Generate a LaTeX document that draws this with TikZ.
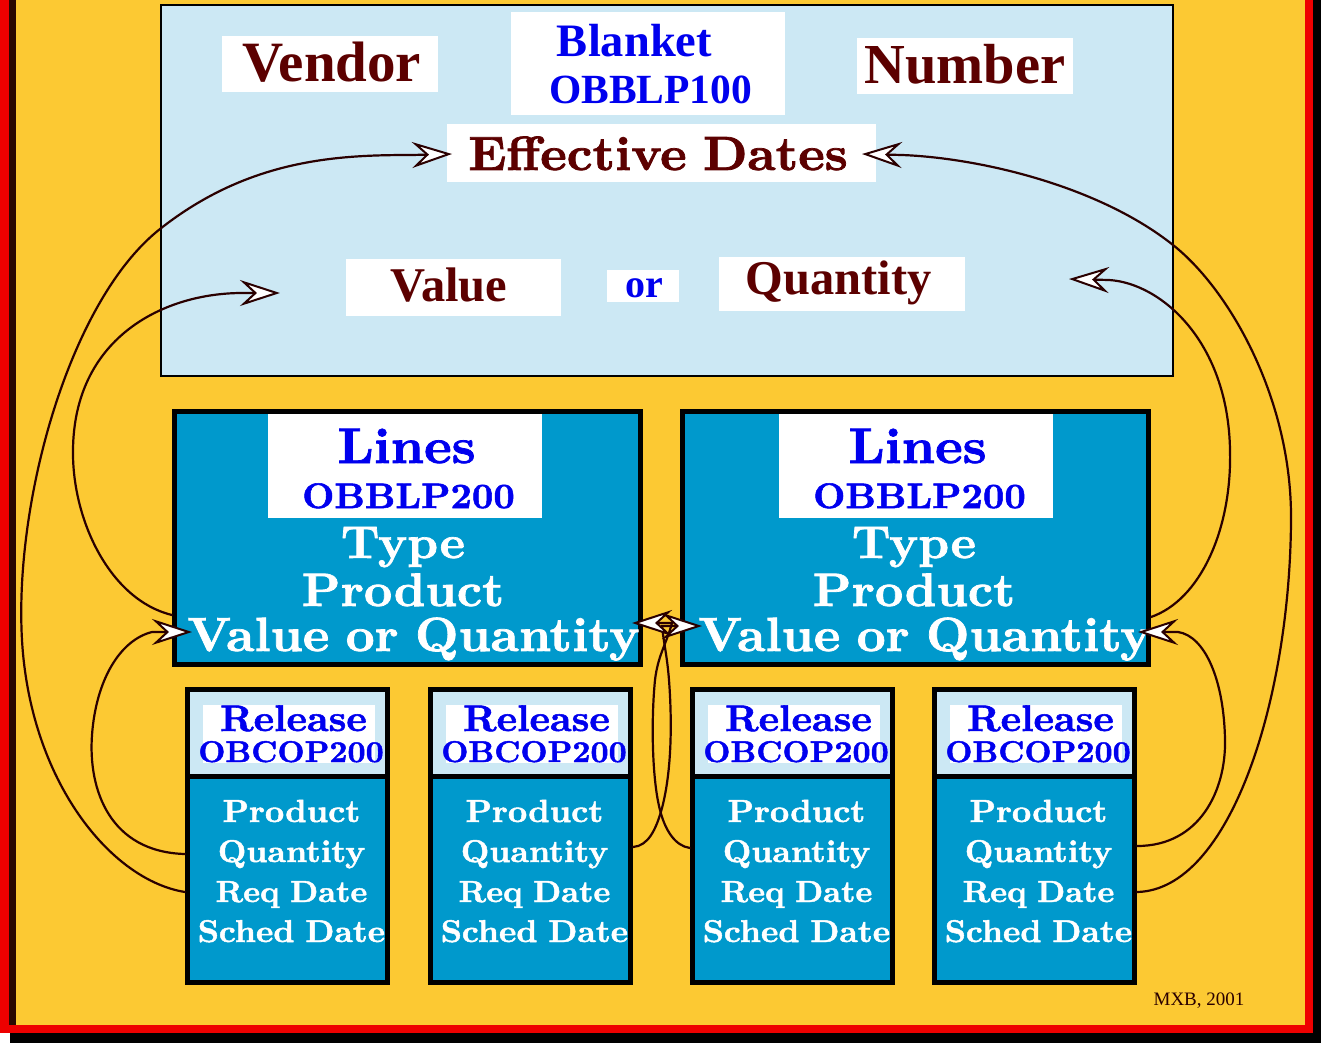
\documentclass[tikz,border=0pt]{standalone}
\usepackage{fontspec}
\newfontfamily\tmsfont{Liberation Serif}
\newfontfamily\schbold{lmroman10-bold.otf}[WordSpace=0.85,FakeStretch=1.05,FakeBold=1.5]
\usetikzlibrary{arrows.meta,calc}
\definecolor{bgyel}{HTML}{FCC933}
\definecolor{frred}{HTML}{EE0000}
\definecolor{lblue}{HTML}{CCE8F4}
\definecolor{dblue}{HTML}{0099CC}
\definecolor{tblue}{HTML}{0000EE}
\definecolor{dred}{HTML}{5C0000}
\definecolor{conncol}{HTML}{2A0000}
\definecolor{edgecol}{HTML}{2A0800}
\newcommand\fsz[1]{\fontsize{#1}{#1}\selectfont}
\begin{document}
\begin{tikzpicture}[x=1pt,y=-1pt,
  txt/.style={inner sep=0pt, anchor=base},
  wbox/.style={fill=white, inner sep=0pt},
  timesred/.style={txt, text=dred, font=\tmsfont\bfseries\fsz{#1}},
  timesblue/.style={txt, text=tblue, font=\tmsfont\bfseries\fsz{#1}},
  schblue/.style={txt, text=tblue, font=\schbold\fsz{#1}},
  schwhite/.style={txt, text=white, font=\schbold\fsz{#1}},
  linesbox/.style={draw=black, line width=5pt, fill=dblue, inner sep=0pt, minimum width=466pt, minimum height=253pt},
  relbox/.style={draw=black, line width=5pt, fill=dblue, inner sep=0pt, minimum width=200pt, minimum height=293pt},
  headbox/.style={draw=black, line width=5pt, fill=lblue, inner sep=0pt, minimum width=200pt, minimum height=86.5pt},
  conn/.style={draw=conncol, line width=2.2pt, line cap=round, -{Stealth[length=40pt,width=26pt,inset=14pt,fill=white,line width=2pt]}}
]
\useasboundingbox (0,0) rectangle (1321,1043);
% frame
\fill[black] (10,0) rectangle (1321,1043);
\fill[frred] (0,0) rectangle (1313,1033);
\fill[edgecol] (9,0) rectangle (1305,1025);
\fill[bgyel] (16,0) rectangle (1305,1025);

% top box
\node[draw=black, line width=2pt, fill=lblue, inner sep=0pt, minimum width=1012pt, minimum height=371pt] (blanketbox) at (666.8,190.5) {};
\node[wbox, minimum width=216pt, minimum height=56pt] (vendorbox) at (330,64) {};
\node[wbox, minimum width=274pt, minimum height=103pt] (blankbox) at (648,63.5) {};
\node[wbox, minimum width=429pt, minimum height=58pt] (effbox) at (661.5,153) {};
\node[wbox, minimum width=216pt, minimum height=56pt] (numbox) at (965,66) {};
\node[wbox, minimum width=215pt, minimum height=57pt] (valbox) at (453.5,287.5) {};
\node[wbox, minimum width=72pt, minimum height=32pt] (orbox) at (643,286) {};
\node[wbox, minimum width=246pt, minimum height=54pt] (qtybox) at (842,284) {};

\node[timesred=57] (vendor) at (332,82) {Vendor};
\node[timesred=56.5] (number) at (965,84) {Number};
\node[timesblue=46.5] (blanket) at (634.5,57) {Blanket};
\node[timesblue=41.5] (obblp100) at (650.5,104) {OBBLP100};
\node[txt, text=dred, font=\schbold\fsz{48}] (effdates) at (658,170) {Effective Dates};
\node[timesred=48.5] (value) at (449,301) {Value};
\node[timesblue=40] (ortxt) at (644,297) {or};
\node[timesred=48.5] (quantity) at (838.5,294) {Quantity};

% lines boxes
\node[linesbox] (linesL) at (407.5,538) {};
\node[linesbox] (linesR) at (915.5,538) {};
\foreach \s/\dx in {L/0,R/511}{
  \node[wbox, minimum width=274pt, minimum height=104pt] (lab\s) at (405+\dx,466) {};
  \node[schblue=50] (lines\s-a) at (406.5+\dx,463) {Lines};
  \node[schblue=35.5] (lines\s-b) at (408.5+\dx,508) {OBBLP200};
  \node[schwhite=46] (lines\s-c) at (403+\dx,558) {Type};
  \node[schwhite=47] (lines\s-d) at (403+\dx,606) {Product};
  \node[schwhite=48] (lines\s-e) at (413.5+\dx,651) {Value or Quantity};
}

% release boxes
\foreach \i/\cx in {1/287.5,2/530.5,3/792.5,4/1034.5}{
  \node[relbox] (rel\i) at (\cx,836) {};
  \node[headbox] (hd\i) at (\cx,732.75) {};
  \node[wbox, minimum width=172pt, minimum height=58pt] (hw\i) at (\cx+1.5,734) {};
  \node[schblue=37] (rt\i) at (\cx+6,731) {Release};
  \node[schblue=30] (rc\i) at (\cx+3.5,762) {OBCOP200};
  \node[schwhite=32] (p\i) at (\cx+4,822) {Product};
  \node[schwhite=31.5] (q\i) at (\cx+4,862) {Quantity};
  \node[schwhite=30.5] (rq\i) at (\cx+4,902) {Req Date};
  \node[schwhite=31.5] (sd\i) at (\cx+4,942) {Sched Date};
}

\node[txt, text=conncol, font=\tmsfont\fsz{19}] (credit) at (1199,1005) {MXB, 2001};

% connector end points
\coordinate (r1req) at ($(rel1.west)+(0,56)$);
\coordinate (r1q) at ($(rel1.west)+(0,18)$);
\coordinate (r4req) at ($(rel4.east)+(0,56)$);
\coordinate (r4q) at ($(rel4.east)+(0,10)$);
\coordinate (r2q) at ($(rel2.east)+(0,11)$);
\coordinate (r3q) at ($(rel3.west)+(0,12)$);
\coordinate (lLw) at ($(linesL.west)+(0,77)$);
\coordinate (lRe) at ($(linesR.east)+(0,79)$);
\coordinate (efftipL) at (452,154);
\coordinate (efftipR) at (862,154);
\coordinate (valtip) at (280,293);
\coordinate (qtytip) at (1069,279);
\coordinate (vqtipL) at (192,632);
\coordinate (vqtipR) at (1138,632);
\coordinate (midtipL) at (632,623);
\coordinate (midtipR) at (702,626);

% connectors
\draw[conn] (r1req) .. controls (110,880) and (30,780) .. (22,640)
  .. controls (14,500) and (70,300) .. (160,229)
  .. controls (250,158) and (340,155) .. (412,155) -- (efftipL);
\draw[conn] (lLw) .. controls (110,600) and (72,520) .. (73,450)
  .. controls (74,340) and (160,294) .. (240,293) -- (valtip);
\draw[conn] (r1q) .. controls (110,852) and (88,790) .. (92,735)
  .. controls (96,680) and (120,640) .. (152,632) -- (vqtipL);

\draw[conn] (r4req) .. controls (1230,890) and (1290,700) .. (1291,520)
  .. controls (1292,400) and (1230,290) .. (1173,245)
  .. controls (1099,186) and (980,158) .. (902,155) -- (efftipR);
\draw[conn] (lRe) .. controls (1200,600) and (1232,530) .. (1230,450)
  .. controls (1228,340) and (1160,283) .. (1109,280) -- (qtytip);
\draw[conn] (r4q) .. controls (1200,846) and (1226,790) .. (1225,740)
  .. controls (1224,680) and (1205,636) .. (1178,632) -- (vqtipR);

\draw[conn] (r2q) .. controls (648,846) and (656,830) .. (662,808)
  .. controls (672,770) and (672,720) .. (669,680)
  .. controls (667,655) and (664,645) .. (662,626) -- (midtipR);
\draw[conn] (r3q) .. controls (675,846) and (665,830) .. (660,810)
  .. controls (652,780) and (651,720) .. (655,680)
  .. controls (658,655) and (666,645) .. (672,623) -- (midtipL);
\end{tikzpicture}
\end{document}
